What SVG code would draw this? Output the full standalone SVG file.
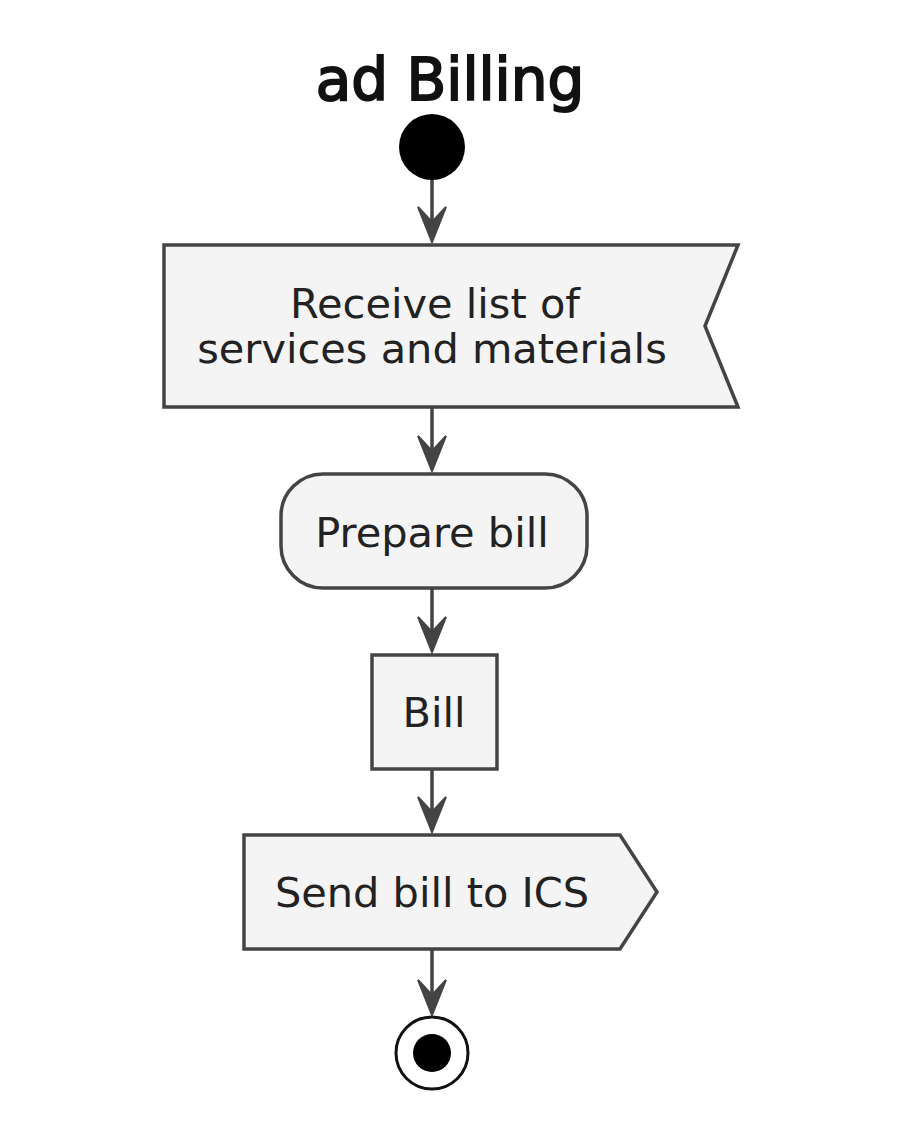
<svg xmlns="http://www.w3.org/2000/svg" width="923" height="1137" viewBox="0 0 923 1137">
<style>
.shape{fill:#F4F4F4;stroke:#444;stroke-width:3.5}
.lbl{font-family:"DejaVu Sans",sans-serif;font-size:41.5px;fill:#222;text-anchor:middle}
.title{font-family:"DejaVu Sans",sans-serif;font-size:58px;fill:#111;stroke:#111;stroke-width:2;text-anchor:middle}
.edge{stroke:#444;stroke-width:3.5;fill:none}
.ah{fill:#444;stroke:#444;stroke-width:2}
</style>
<rect width="923" height="1137" fill="#fff"/>
<g id="title"><text class="title" x="450" y="100">ad Billing</text></g>
<g id="start"><circle cx="432" cy="147" r="33" fill="#000"/></g>
<g id="receive">
<path class="shape" d="M164,245 L738,245 L705,326 L738,407 L164,407 Z"/>
<text class="lbl" x="435" y="318">Receive list of</text>
<text class="lbl" x="432" y="363">services and materials</text>
</g>
<g id="prepare">
<rect class="shape" x="281" y="474" width="306" height="114" rx="42" ry="42"/>
<text class="lbl" x="432" y="547">Prepare bill</text>
</g>
<g id="bill">
<rect class="shape" x="372" y="655" width="125" height="114"/>
<text class="lbl" x="434" y="727">Bill</text>
</g>
<g id="send">
<path class="shape" d="M244,835 L620,835 L657,892 L620,949 L244,949 Z"/>
<text class="lbl" x="432" y="907">Send bill to ICS</text>
</g>
<g id="end">
<circle cx="432" cy="1053" r="36" fill="#fff" stroke="#111" stroke-width="3"/>
<circle cx="432" cy="1053" r="19" fill="#000"/>
</g>
<g id="connectors">
<line class="edge" x1="432" y1="180" x2="432" y2="238"/>
<path class="ah" d="M418,207 L432,242 L446,207 L432,222 Z"/>
<line class="edge" x1="432" y1="407" x2="432" y2="467"/>
<path class="ah" d="M418,436 L432,471 L446,436 L432,451 Z"/>
<line class="edge" x1="432" y1="588" x2="432" y2="648"/>
<path class="ah" d="M418,617 L432,652 L446,617 L432,632 Z"/>
<line class="edge" x1="432" y1="769" x2="432" y2="828"/>
<path class="ah" d="M418,797 L432,832 L446,797 L432,812 Z"/>
<line class="edge" x1="432" y1="949" x2="432" y2="1010"/>
<path class="ah" d="M418,980 L432,1015 L446,980 L432,995 Z"/>
</g>
</svg>
